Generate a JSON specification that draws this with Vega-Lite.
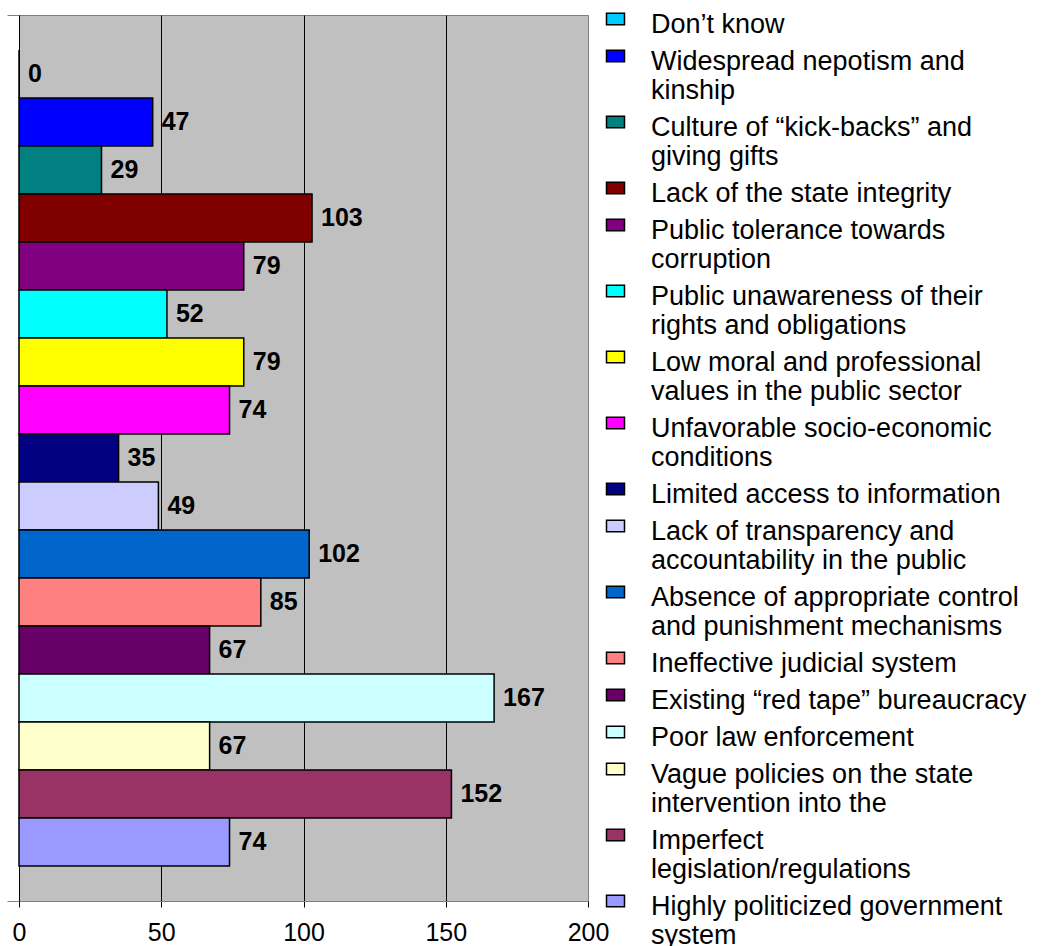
{
  "$schema": "https://vega.github.io/schema/vega-lite/v6.json",
  "width": 569,
  "height": 886,
  "autosize": "none",
  "padding": {"left": 19, "top": 15, "right": 458, "bottom": 45},
  "background": "white",
  "data": {
    "values": [
      {"group": "Causes", "cause": "Don’t know", "count": 0},
      {"group": "Causes", "cause": "Widespread nepotism and\nkinship", "count": 47},
      {"group": "Causes", "cause": "Culture of “kick-backs” and\ngiving gifts", "count": 29},
      {"group": "Causes", "cause": "Lack of the state integrity", "count": 103},
      {"group": "Causes", "cause": "Public tolerance towards\ncorruption", "count": 79},
      {"group": "Causes", "cause": "Public unawareness of their\nrights and obligations", "count": 52},
      {"group": "Causes", "cause": "Low moral and professional\nvalues in the public sector", "count": 79},
      {"group": "Causes", "cause": "Unfavorable socio-economic\nconditions", "count": 74},
      {"group": "Causes", "cause": "Limited access to information", "count": 35},
      {"group": "Causes", "cause": "Lack of transparency and\naccountability in the public", "count": 49},
      {"group": "Causes", "cause": "Absence of appropriate control\nand punishment mechanisms", "count": 102},
      {"group": "Causes", "cause": "Ineffective judicial system", "count": 85},
      {"group": "Causes", "cause": "Existing “red tape” bureaucracy", "count": 67},
      {"group": "Causes", "cause": "Poor law enforcement", "count": 167},
      {"group": "Causes", "cause": "Vague policies on the state\nintervention into the", "count": 67},
      {"group": "Causes", "cause": "Imperfect\nlegislation/regulations", "count": 152},
      {"group": "Causes", "cause": "Highly politicized government\nsystem", "count": 74}
    ]
  },
  "encoding": {
    "y": {
      "field": "group",
      "type": "nominal",
      "title": null,
      "scale": {"paddingInner": 0, "paddingOuter": 0},
      "axis": {
        "labels": false,
        "ticks": true,
        "tickBand": "extent",
        "tickSize": 12,
        "tickColor": "#808080",
        "domainColor": "black",
        "domainWidth": 1,
        "title": null
      }
    },
    "yOffset": {
      "field": "cause",
      "type": "nominal",
      "sort": null,
      "scale": {"paddingInner": 0, "paddingOuter": 0.73}
    },
    "x": {
      "field": "count",
      "type": "quantitative",
      "scale": {"domain": [0, 200], "nice": false},
      "axis": {
        "values": [0, 50, 100, 150, 200],
        "title": null,
        "grid": true,
        "gridColor": {"condition": {"test": "datum.value === 200", "value": "#808080"}, "value": "black"},
        "gridWidth": 1,
        "gridOpacity": 1,
        "domainColor": "#808080",
        "tickColor": "black",
        "tickSize": 6,
        "labelFont": "Liberation Sans",
        "labelFontSize": 25,
        "labelColor": "black",
        "labelPadding": 13,
        "labelFlush": false,
        "labelOverlap": false
      }
    }
  },
  "layer": [
    {
      "mark": {"type": "bar", "stroke": "black", "strokeWidth": 1.5},
      "encoding": {
        "color": {
          "field": "cause",
          "type": "nominal",
          "sort": null,
          "scale": {
            "domain": [
              "Don’t know",
              "Widespread nepotism and\nkinship",
              "Culture of “kick-backs” and\ngiving gifts",
              "Lack of the state integrity",
              "Public tolerance towards\ncorruption",
              "Public unawareness of their\nrights and obligations",
              "Low moral and professional\nvalues in the public sector",
              "Unfavorable socio-economic\nconditions",
              "Limited access to information",
              "Lack of transparency and\naccountability in the public",
              "Absence of appropriate control\nand punishment mechanisms",
              "Ineffective judicial system",
              "Existing “red tape” bureaucracy",
              "Poor law enforcement",
              "Vague policies on the state\nintervention into the",
              "Imperfect\nlegislation/regulations",
              "Highly politicized government\nsystem"
            ],
            "range": [
              "#00CCFF", "#0000FF", "#008080", "#800000", "#800080", "#00FFFF",
              "#FFFF00", "#FF00FF", "#000080", "#CCCCFF", "#0066CC", "#FF8080",
              "#660066", "#CCFFFF", "#FFFFCC", "#993366", "#9999FF"
            ]
          },
          "legend": {
            "title": null,
            "orient": "none",
            "legendX": 583,
            "legendY": -9.5,
            "direction": "vertical",
            "symbolType": "M-1,-0.65H1V0.65H-1Z",
            "symbolSize": 324,
            "symbolStrokeColor": "black",
            "symbolStrokeWidth": 1.5,
            "symbolLimit": 40,
            "labelFont": "Liberation Sans",
            "labelFontSize": 27,
            "labelColor": "black",
            "labelLimit": 460,
            "labelOffset": 22,
            "labelBaseline": "top",
            "labelLineHeight": 28,
            "rowPadding": 4,
            "padding": 0,
            "labelExpr": "split(datum.label, '\\n')",
            "encode": {"labels": {"update": {"dy": {"value": -7}}}}
          }
        }
      }
    },
    {
      "mark": {
        "type": "text",
        "align": "left",
        "baseline": "middle",
        "dx": 9,
        "font": "Liberation Sans",
        "fontSize": 25,
        "fontWeight": "bold",
        "color": "black"
      },
      "encoding": {"text": {"field": "count", "type": "quantitative"}}
    }
  ],
  "config": {
    "view": {"fill": "#C0C0C0", "stroke": "#808080", "strokeWidth": 1}
  }
}
